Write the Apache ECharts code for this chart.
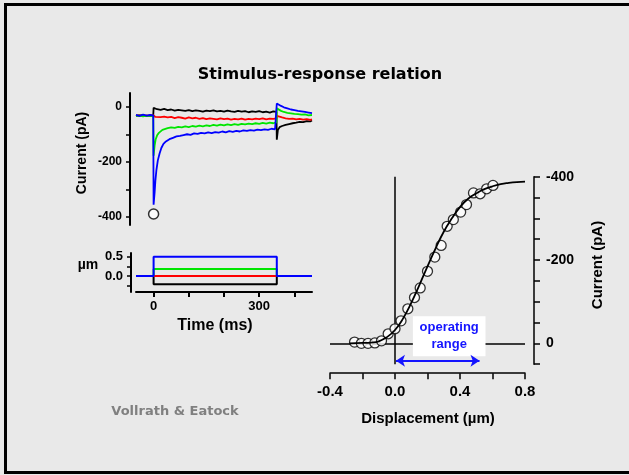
<!DOCTYPE html>
<html>
<head>
<meta charset="utf-8">
<script src="https://cdn.jsdelivr.net/npm/echarts@6/dist/echarts.min.js"></script>
<style>
  html, body { margin: 0; padding: 0; background: #e9e9e9; }
  #main { width: 629px; height: 475px; }
</style>
</head>
<body>
<div id="main"></div>
<script>
// current traces (time ms, current pA)
var blackTrace = [[-50,-31],[-40,-33],[-30,-30],[-20,-34],[-10,-31],[-1,-32],[0,-4],[5,-6],[10,-9],[20,-11],[30,-8],[40,-12],[50,-10],[60,-14],[70,-11],[80,-13],[90,-15],[100,-12],[110,-16],[120,-13],[130,-15],[140,-18],[150,-14],[160,-16],[170,-13],[180,-17],[190,-15],[200,-18],[210,-14],[220,-17],[230,-19],[240,-15],[250,-18],[260,-16],[270,-20],[280,-17],[290,-19],[300,-16],[310,-20],[320,-18],[330,-21],[340,-17],[349,-19],[350,-120],[353,-85],[358,-74],[365,-70],[375,-66],[385,-63],[395,-60],[405,-58],[415,-55],[425,-56],[435,-52],[445,-53],[450,-50]];
var redTrace = [[-50,-33],[-40,-30],[-30,-34],[-20,-31],[-10,-33],[-1,-31],[0,-35],[5,-37],[10,-34],[20,-38],[30,-36],[40,-39],[50,-37],[60,-41],[70,-38],[80,-40],[90,-43],[100,-39],[110,-42],[120,-40],[130,-44],[140,-41],[150,-45],[160,-42],[170,-44],[180,-46],[190,-42],[200,-45],[210,-43],[220,-47],[230,-44],[240,-46],[250,-43],[260,-47],[270,-44],[280,-46],[290,-43],[300,-45],[310,-42],[320,-46],[330,-43],[340,-44],[349,-42],[350,-33],[355,-36],[365,-39],[375,-42],[385,-44],[395,-43],[405,-46],[415,-44],[425,-47],[435,-45],[445,-48],[450,-46]];
var greenTrace = [[-50,-34],[-40,-31],[-30,-35],[-20,-32],[-10,-34],[-1,-33],[0,-178],[3,-140],[6,-118],[10,-104],[15,-95],[20,-88],[25,-84],[30,-80],[40,-78],[50,-75],[60,-77],[70,-73],[80,-75],[90,-71],[100,-74],[110,-70],[120,-72],[130,-69],[140,-71],[150,-68],[160,-70],[170,-66],[180,-69],[190,-65],[200,-68],[210,-64],[220,-67],[230,-63],[240,-66],[250,-62],[260,-64],[270,-61],[280,-63],[290,-60],[300,-62],[310,-59],[320,-61],[330,-58],[340,-60],[349,-57],[350,-6],[355,-10],[362,-15],[370,-19],[380,-22],[390,-24],[400,-26],[410,-27],[420,-29],[430,-28],[440,-31],[450,-30]];
var blueTrace = [[-50,-30],[-40,-33],[-30,-29],[-20,-32],[-10,-30],[-1,-31],[0,-356],[3,-310],[5,-270],[8,-230],[12,-195],[17,-170],[22,-150],[28,-135],[35,-126],[45,-118],[55,-113],[65,-108],[75,-106],[85,-103],[95,-100],[105,-102],[115,-97],[125,-99],[135,-95],[145,-97],[155,-93],[165,-96],[175,-92],[185,-94],[195,-90],[205,-93],[215,-89],[225,-91],[235,-88],[245,-90],[255,-86],[265,-88],[275,-85],[285,-87],[295,-83],[305,-85],[315,-82],[325,-84],[335,-80],[345,-82],[349,-79],[350,12],[355,8],[362,3],[370,-2],[380,-6],[390,-10],[400,-12],[410,-15],[420,-17],[430,-19],[440,-21],[450,-23]];
var peakMarker = [[0,-390]];

// stimulus steps (time ms, displacement um)
var blackStim = [[0,0],[0,-0.22],[350,-0.22],[350,0]];
var redStim = [[0,0],[350,0]];
var greenStim = [[0,0],[0,0.18],[350,0.18],[350,0]];
var blueStim = [[-50,0],[0,0],[0,0.5],[350,0.5],[350,0],[450,0]];

// current-displacement relation
var ivPoints = [[-0.249,-3],[-0.207,0],[-0.166,0],[-0.124,-1],[-0.083,-6],[-0.042,-23],[0.0,-35],[0.037,-54],[0.079,-83],[0.12,-110],[0.155,-133],[0.2,-173],[0.245,-207],[0.284,-235],[0.321,-281],[0.359,-297],[0.404,-315],[0.44,-333],[0.483,-361],[0.524,-359],[0.564,-371],[0.603,-379]];
var ivFit = [[-0.28,0],[-0.2,-1],[-0.15,-2],[-0.1,-5],[-0.05,-15],[0.0,-32],[0.05,-60],[0.1,-97],[0.15,-140],[0.2,-185],[0.25,-228],[0.3,-268],[0.35,-300],[0.4,-327],[0.45,-347],[0.5,-360],[0.55,-370],[0.6,-377],[0.65,-382],[0.7,-385],[0.75,-387],[0.8,-388]];

// ticks and labels
var currentTicks = [-400,-300,-200,-100,0];
var currentLabels = [-400,-200,0];
var stimTicks = [-0.25,0,0.25,0.5];
var stimLabels = [0,0.5];
var timeTicks = [0,100,200,300,400];
var timeLabels = [0,300];
var dispTicks = [-0.4,-0.2,0,0.2,0.4,0.6,0.8];
var dispLabels = [-0.4,0,0.4,0.8];
var ivTicks = [-400,-350,-300,-250,-200,-150,-100,-50,0,50];
var ivLabels = [-400,-200,0];

var fam = 'Liberation Sans';
var blue = '#1414ff';

function lineSeries(data, color, xi, width) {
  return {
    type: 'line', xAxisIndex: xi, yAxisIndex: xi, data: data,
    showSymbol: false, silent: true,
    lineStyle: { color: color, width: width }
  };
}

var chart = echarts.init(document.getElementById('main'));

var option = {
  backgroundColor: '#e9e9e9',
  animation: false,
  textStyle: { fontFamily: fam, fontWeight: 'bold', color: '#000' },
  grid: [
    { left: 136, top: 93, width: 176, height: 132 },
    { left: 136, top: 253, width: 176, height: 39 },
    { left: 330, top: 176.7, width: 195, height: 187.5 }
  ],
  xAxis: [
    { gridIndex: 0, type: 'value', min: -50, max: 450, show: false },
    {
      gridIndex: 1, type: 'value', min: -50, max: 450,
      axisLine: { onZero: false, lineStyle: { color: '#000', width: 2 } },
      axisTick: { length: 5, lineStyle: { color: '#000', width: 2 }, customValues: timeTicks },
      axisLabel: { customValues: timeLabels, fontSize: 13, fontWeight: 'bold', fontFamily: fam, color: '#000', margin: 8 },
      splitLine: { show: false }
    },
    {
      gridIndex: 2, type: 'value', min: -0.4, max: 0.8, offset: 9,
      axisLine: { onZero: false, lineStyle: { color: '#000', width: 1.5 } },
      axisTick: { length: 6, lineStyle: { color: '#000', width: 1.5 }, customValues: dispTicks },
      axisLabel: {
        customValues: dispLabels, fontSize: 15, fontWeight: 'bold', fontFamily: fam, color: '#000', margin: 11,
        formatter: function (v) { return v.toFixed(1); }
      },
      splitLine: { show: false }
    }
  ],
  yAxis: [
    {
      gridIndex: 0, type: 'value', min: -430, max: 50, offset: 6,
      axisLine: { onZero: false, lineStyle: { color: '#000', width: 2 } },
      axisTick: { length: 4, lineStyle: { color: '#000', width: 1.5 }, customValues: currentTicks },
      axisLabel: { customValues: currentLabels, fontSize: 12, fontWeight: 'bold', fontFamily: fam, color: '#000', margin: 8 },
      splitLine: { show: false }
    },
    {
      gridIndex: 1, type: 'value', min: -0.42, max: 0.6, offset: 5,
      axisLine: { onZero: false, lineStyle: { color: '#000', width: 2 } },
      axisTick: { length: 4, lineStyle: { color: '#000', width: 1.5 }, customValues: stimTicks },
      axisLabel: {
        customValues: stimLabels, fontSize: 13, fontWeight: 'bold', fontFamily: fam, color: '#000', margin: 8,
        formatter: function (v) { return v.toFixed(1); }
      },
      splitLine: { show: false }
    },
    {
      gridIndex: 2, type: 'value', min: -400, max: 50, inverse: true, position: 'right', offset: 9,
      axisLine: { onZero: false, lineStyle: { color: '#000', width: 1.5 } },
      axisTick: { length: 6, lineStyle: { color: '#000', width: 1.5 }, customValues: ivTicks },
      axisLabel: { customValues: ivLabels, fontSize: 14, fontWeight: 'bold', fontFamily: fam, color: '#000', margin: 12 },
      splitLine: { show: false }
    }
  ],
  series: [
    lineSeries(blackTrace, '#000000', 0, 1.8),
    lineSeries(redTrace, '#ff0000', 0, 1.8),
    lineSeries(greenTrace, '#00e600', 0, 1.8),
    lineSeries(blueTrace, '#0000ff', 0, 1.8),
    {
      type: 'scatter', xAxisIndex: 0, yAxisIndex: 0, data: peakMarker, symbolSize: 10, silent: true,
      itemStyle: { color: '#fff', borderColor: '#000', borderWidth: 1.5 }
    },
    lineSeries(blackStim, '#000000', 1, 2),
    lineSeries(redStim, '#ff0000', 1, 2),
    lineSeries(greenStim, '#00e600', 1, 2),
    lineSeries(blueStim, '#0000ff', 1, 2),
    {
      type: 'scatter', xAxisIndex: 2, yAxisIndex: 2, data: ivPoints, symbolSize: 10, silent: true, z: 2,
      itemStyle: { color: '#fff', borderColor: '#000', borderWidth: 1.3 }
    },
    {
      type: 'line', xAxisIndex: 2, yAxisIndex: 2, data: ivFit, smooth: true, showSymbol: false, silent: true, z: 3,
      lineStyle: { color: '#000', width: 1.8 },
      markLine: {
        silent: true, symbol: 'none', z: 1, animation: false,
        lineStyle: { color: '#000', width: 1.5, type: 'solid' },
        label: { show: false },
        data: [{ xAxis: 0 }, { yAxis: 0 }]
      }
    },
    {
      type: 'line', xAxisIndex: 2, yAxisIndex: 2, data: [], silent: true, z: 6,
      markArea: {
        silent: true, z: 6,
        itemStyle: { color: '#ffffff' },
        label: {
          show: true, position: 'inside', formatter: 'operating\nrange',
          color: blue, fontSize: 13, fontWeight: 'bold', fontFamily: fam, lineHeight: 17
        },
        data: [[{ coord: [0.11, -65] }, { coord: [0.557, 31] }]]
      },
      markLine: {
        silent: true, symbol: ['arrow', 'arrow'], symbolSize: 9, z: 6,
        lineStyle: { color: blue, width: 2, type: 'solid' },
        label: { show: false },
        data: [[{ coord: [0.006, 42] }, { coord: [0.52, 42] }]]
      }
    }
  ],
  graphic: [
    {
      type: 'rect', silent: true,
      shape: { x: 5.5, y: 4.5, width: 640, height: 468 },
      style: { fill: 'none', stroke: '#000', lineWidth: 3 }
    },
    {
      type: 'text', x: 320, y: 75, silent: true,
      style: { text: 'Stimulus-response relation', fontSize: 16, fontWeight: 'bold', fontFamily: 'DejaVu Sans', fill: '#000', align: 'center', verticalAlign: 'middle', textAlign: 'center', textVerticalAlign: 'middle' }
    },
    {
      type: 'text', x: 82, y: 153, rotation: Math.PI / 2, silent: true,
      style: { text: 'Current (pA)', fontSize: 14, fontWeight: 'bold', fontFamily: fam, fill: '#000', align: 'center', verticalAlign: 'middle', textAlign: 'center', textVerticalAlign: 'middle' }
    },
    {
      type: 'text', x: 88, y: 265, silent: true,
      style: { text: 'µm', fontSize: 14, fontWeight: 'bold', fontFamily: fam, fill: '#000', align: 'center', verticalAlign: 'middle', textAlign: 'center', textVerticalAlign: 'middle' }
    },
    {
      type: 'text', x: 215, y: 326, silent: true,
      style: { text: 'Time (ms)', fontSize: 16, fontWeight: 'bold', fontFamily: fam, fill: '#000', align: 'center', verticalAlign: 'middle', textAlign: 'center', textVerticalAlign: 'middle' }
    },
    {
      type: 'text', x: 428, y: 419, silent: true,
      style: { text: 'Displacement (µm)', fontSize: 15, fontWeight: 'bold', fontFamily: fam, fill: '#000', align: 'center', verticalAlign: 'middle', textAlign: 'center', textVerticalAlign: 'middle' }
    },
    {
      type: 'text', x: 598, y: 265, rotation: Math.PI / 2, silent: true,
      style: { text: 'Current (pA)', fontSize: 15, fontWeight: 'bold', fontFamily: fam, fill: '#000', align: 'center', verticalAlign: 'middle', textAlign: 'center', textVerticalAlign: 'middle' }
    },
    {
      type: 'text', x: 175, y: 412, silent: true,
      style: { text: 'Vollrath & Eatock', fontSize: 13, fontWeight: 'bold', fontFamily: 'DejaVu Sans', fill: '#808080', align: 'center', verticalAlign: 'middle', textAlign: 'center', textVerticalAlign: 'middle' }
    }
  ]
};

chart.setOption(option);
</script>
</body>
</html>
